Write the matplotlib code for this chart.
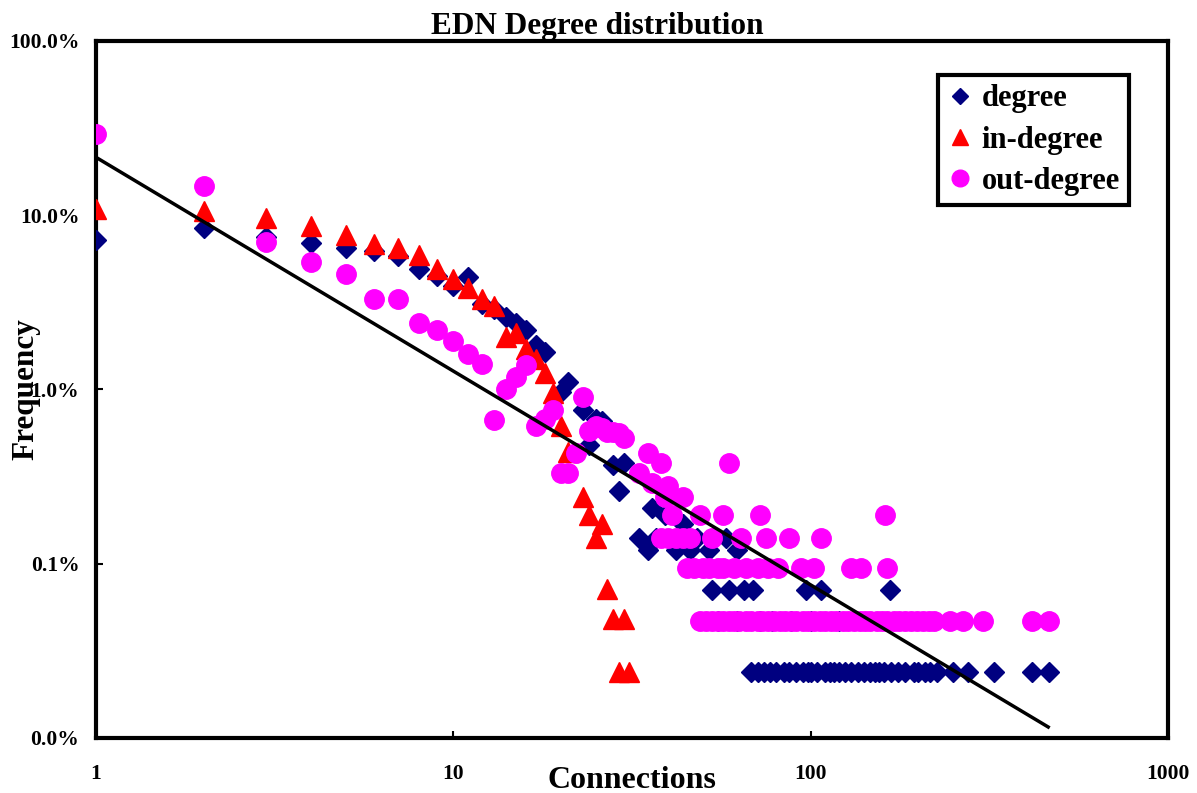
import numpy as np
import matplotlib
matplotlib.use("Agg")
import matplotlib.pyplot as plt
from matplotlib.ticker import FixedLocator, FixedFormatter

plt.rcParams['font.family'] = ['Liberation Serif', 'DejaVu Serif']
plt.rcParams['font.weight'] = 'bold'

# Degree distribution (frequency in percent)
degree_k = [1, 2, 3, 4, 5, 6, 7, 8, 9, 10, 11, 12, 13, 14, 15, 16, 17, 18,
            20, 21, 23, 24, 25, 26, 28, 29, 30, 33, 35, 36, 37, 39, 42, 44,
            46, 48, 52, 58, 62]
degree_pct = [7.2, 8.4, 7.5, 6.9, 6.5, 6.2, 5.8, 4.9, 4.5, 3.9, 4.4, 3.1, 2.9,
              2.6, 2.4, 2.2, 1.8, 1.65, 0.97, 1.1, 0.76, 0.48, 0.68, 0.66,
              0.37, 0.26, 0.38, 0.14, 0.12, 0.21, 0.14, 0.19, 0.12, 0.17,
              0.12, 0.14, 0.12, 0.14, 0.12]
# tail rows: nodes counted 3, 2 and 1 times
degree_row3_k = [53, 59, 65, 69, 97, 107, 167]
degree_row3_pct = 0.071
degree_row2_k = [55, 62, 72, 78, 88, 100, 120]
degree_row2_pct = 0.047
degree_row1_k = [68, 71, 74, 77, 80, 84, 87, 91, 95, 98, 100, 104, 110, 113,
                 116, 120, 125, 130, 136, 141, 147, 151, 155, 160, 168, 176,
                 184, 194, 200, 209, 216, 225, 250, 275, 325, 415, 465]
degree_row1_pct = 0.024

indeg_k = [1, 2, 3, 4, 5, 6, 7, 8, 9, 10, 11, 12, 13, 14, 15, 16, 17, 18, 19,
           20, 21, 23, 24, 25, 26, 27, 28, 29, 30, 31]
indeg_pct = [10.8, 10.6, 9.6, 8.7, 7.7, 6.8, 6.5, 5.9, 4.9, 4.3, 3.8, 3.3, 3.0,
             2.0, 2.1, 1.7, 1.5, 1.25, 0.95, 0.62, 0.44, 0.24, 0.19, 0.14,
             0.17, 0.072, 0.048, 0.024, 0.048, 0.024]

outdeg_k = [1, 2, 3, 4, 5, 6, 7, 8, 9, 10, 11, 12, 13, 14, 15, 16, 17, 18, 19,
            20, 21, 22, 23, 24, 25, 26, 27, 28, 29, 30, 33, 35, 36, 38, 39,
            40, 41, 44, 49, 57, 59, 72, 161]
outdeg_pct = [29.2, 14.7, 7.0, 5.4, 4.6, 3.3, 3.3, 2.4, 2.2, 1.9, 1.6, 1.4,
              0.67, 1.0, 1.18, 1.38, 0.62, 0.68, 0.76, 0.33, 0.33, 0.43, 0.90,
              0.58, 0.62, 0.60, 0.57, 0.57, 0.56, 0.53, 0.33, 0.43, 0.29,
              0.38, 0.24, 0.28, 0.19, 0.24, 0.19, 0.19, 0.38, 0.19, 0.19]
outdeg_row3_k = [38, 40, 42, 44, 46, 53, 64, 75, 87, 107]
outdeg_row3_pct = 0.14
outdeg_row2_k = [45, 47, 50, 52, 55, 57, 61, 66, 71, 76, 81, 94, 102, 130,
                 138, 163]
outdeg_row2_pct = 0.095
outdeg_row1_k = [49, 51, 53, 55, 57, 59, 61, 63, 66, 68, 71, 73, 76, 79, 82,
                 85, 88, 91, 95, 98, 102, 106, 110, 114, 118, 123, 127, 132,
                 137, 142, 147, 153, 158, 164, 171, 177, 184, 191, 198, 206,
                 214, 222, 246, 266, 304, 415, 464]
outdeg_row1_pct = 0.047

# power-law trend line
fit_coef = 21.5
fit_exp = -1.227
fit_x_end = 462

y_ticks = [100, 10, 1, 0.1, 0.01]
y_labels = ["100.0%", "10.0%", "1.0%", "0.1%", "0.0%"]
x_ticks = [1, 10, 100, 1000]
x_labels = ["1", "10", "100", "1000"]

fig = plt.figure(figsize=(11.97, 7.93), dpi=100)
ax = fig.add_axes([0.0802, 0.0694, 0.8956, 0.8789])

deg_x = degree_k + degree_row3_k + degree_row2_k + degree_row1_k
deg_y = (degree_pct + [degree_row3_pct] * len(degree_row3_k)
         + [degree_row2_pct] * len(degree_row2_k)
         + [degree_row1_pct] * len(degree_row1_k))
out_x = outdeg_k + outdeg_row3_k + outdeg_row2_k + outdeg_row1_k
out_y = (outdeg_pct + [outdeg_row3_pct] * len(outdeg_row3_k)
         + [outdeg_row2_pct] * len(outdeg_row2_k)
         + [outdeg_row1_pct] * len(outdeg_row1_k))

ax.plot(deg_x, deg_y, linestyle="none", marker="D", markersize=10,
        color="#000080", label="degree", zorder=3)
ax.plot(indeg_k, indeg_pct, linestyle="none", marker="^", markersize=14,
        color="#FF0000", label="in-degree", zorder=4)
ax.plot(out_x, out_y, linestyle="none", marker="o", markersize=14,
        color="#FF00FF", label="out-degree", zorder=5)

fit_x = np.logspace(0, np.log10(fit_x_end), 50)
ax.plot(fit_x, fit_coef * fit_x ** fit_exp, color="black", linewidth=2.5,
        zorder=6)

ax.set_xscale("log")
ax.set_yscale("log")
ax.set_xlim(1, 1000)
ax.set_ylim(0.01, 100)

ax.xaxis.set_major_locator(FixedLocator(x_ticks))
ax.xaxis.set_major_formatter(FixedFormatter(x_labels))
ax.yaxis.set_major_locator(FixedLocator(y_ticks))
ax.yaxis.set_major_formatter(FixedFormatter(y_labels))
ax.minorticks_off()
ax.tick_params(axis="both", direction="in", length=5, width=1.5,
               labelsize=15.5)
ax.tick_params(axis="x", pad=19)
ax.tick_params(axis="y", pad=12)

for s in ax.spines.values():
    s.set_linewidth(3)

# title is centred on the whole figure, not the axes
ax.set_title("EDN Degree distribution", fontsize=22.5, fontweight="bold",
             pad=5, x=0.468)
ax.set_xlabel("Connections", fontsize=23, fontweight="bold")
ax.xaxis.set_label_coords(0.5, -0.04)
ax.set_ylabel("Frequency", fontsize=22.5, fontweight="bold")
ax.yaxis.set_label_coords(-0.052, 0.5)

leg = ax.legend(loc="upper left", bbox_to_anchor=(0.785, 0.951),
                borderaxespad=0, fontsize=22, fancybox=False,
                edgecolor="black", framealpha=1, handletextpad=0.25,
                labelspacing=0.4, borderpad=0.3, handlelength=0.9)
leg.get_frame().set_linewidth(3)
for h, ms in zip(leg.legend_handles, [8, 12, 12]):
    h.set_markersize(ms)

plt.savefig("out.png", dpi=100)
